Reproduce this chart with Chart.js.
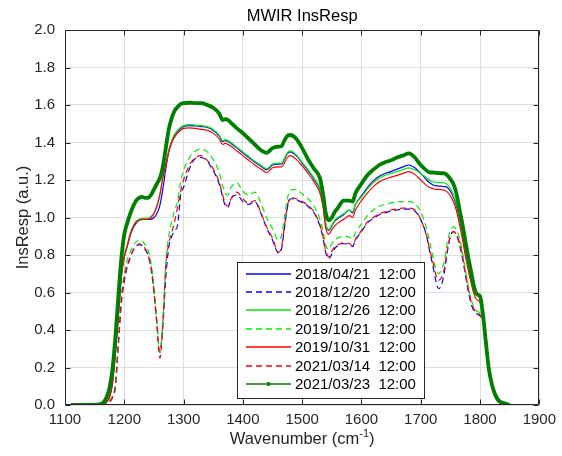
<!DOCTYPE html>
<html>
<head>
<meta charset="utf-8">
<script src="https://cdn.jsdelivr.net/npm/chart.js@4.4.1/dist/chart.umd.min.js"></script>
<style>
  html, body { margin: 0; padding: 0; background: #ffffff; }
  #wrap { width: 562px; height: 456px; }
</style>
</head>
<body>
<div id="wrap"><canvas id="c" width="562" height="456"></canvas></div>
<script>
// ---------------- DATA ----------------
const wavenumbers = [
  1110,1150,1160,1165,1170,1175,1180,1185,1190,1195,
  1200,1205,1210,1215,1220,1225,1230,1235,1240,1245,
  1250,1255,1260,1265,1270,1275,1280,1285,1290,1295,
  1300,1310,1320,1330,1340,1350,1360,1366,1370,1375,
  1380,1390,1400,1410,1420,1430,1440,1450,1460,1465,
  1470,1475,1480,1490,1500,1510,1520,1530,1535,1540,
  1545,1550,1555,1560,1570,1580,1585,1590,1600,1610,
  1620,1630,1640,1650,1660,1670,1680,1690,1700,1710,
  1715,1720,1725,1730,1735,1740,1745,1750,1755,1760,
  1765,1770,1775,1780,1785,1790,1795,1800,1805,1810,
  1815,1820,1825,1830,1835,1840,1850
];

const resp_20180421 = [ // blue solid
  0,0,0,0.005,0.015,0.04,0.11,0.27,0.47,0.68,
  0.79,0.845,0.905,0.945,0.97,0.985,0.99,0.99,0.99,0.99,
  1.0,1.02,1.065,1.15,1.26,1.35,1.405,1.44,1.46,1.475,
  1.485,1.49,1.488,1.485,1.48,1.465,1.435,1.405,1.41,1.405,
  1.395,1.37,1.345,1.32,1.295,1.275,1.255,1.28,1.285,1.285,
  1.31,1.34,1.35,1.33,1.29,1.25,1.205,1.15,1.08,0.96,
  0.93,0.955,0.98,0.995,1.015,1.04,1.025,1.07,1.115,1.16,
  1.195,1.22,1.235,1.245,1.258,1.27,1.28,1.265,1.235,1.2,
  1.185,1.175,1.17,1.168,1.167,1.165,1.16,1.14,1.11,1.065,
  1.0,0.92,0.83,0.75,0.675,0.615,0.585,0.575,0.49,0.35,
  0.2,0.11,0.05,0.02,0.01,0,0
];

const resp_20181220 = [ // blue dashed
  0,0,0,0,0.005,0.015,0.04,0.1,0.32,0.54,
  0.66,0.735,0.785,0.825,0.845,0.855,0.85,0.83,0.8,0.73,
  0.6,0.43,0.28,0.42,0.68,0.84,0.9,0.93,0.96,1.12,
  1.16,1.26,1.315,1.32,1.3,1.25,1.18,1.11,1.065,1.055,
  1.1,1.12,1.085,1.07,1.085,1.025,0.945,0.88,0.81,0.83,
  0.94,1.05,1.1,1.095,1.08,1.06,1.025,0.955,0.895,0.81,
  0.78,0.805,0.835,0.85,0.86,0.855,0.845,0.88,0.925,0.97,
  0.995,1.015,1.025,1.035,1.04,1.045,1.045,1.035,0.99,0.9,
  0.82,0.75,0.67,0.62,0.64,0.71,0.82,0.9,0.925,0.91,
  0.86,0.79,0.7,0.61,0.54,0.5,0.485,0.475,0.445,0.35,
  0.2,0.1,0.045,0.02,0.01,0,0
];

const resp_20181226 = [ // green solid
  0,0,0,0.005,0.015,0.045,0.13,0.29,0.49,0.69,
  0.8,0.85,0.915,0.955,0.98,0.99,0.995,0.995,0.995,1.005,
  1.025,1.065,1.125,1.215,1.29,1.36,1.41,1.445,1.465,1.48,
  1.49,1.495,1.493,1.49,1.485,1.47,1.44,1.41,1.415,1.41,
  1.4,1.375,1.35,1.325,1.3,1.28,1.26,1.285,1.29,1.29,
  1.315,1.345,1.355,1.335,1.295,1.255,1.21,1.155,1.085,0.965,
  0.935,0.96,0.985,1.0,1.02,1.04,1.03,1.07,1.11,1.15,
  1.185,1.21,1.225,1.235,1.245,1.255,1.265,1.255,1.235,1.21,
  1.198,1.19,1.188,1.187,1.186,1.185,1.175,1.155,1.12,1.075,
  1.01,0.93,0.84,0.76,0.685,0.625,0.59,0.58,0.5,0.36,
  0.21,0.115,0.055,0.025,0.01,0,0
];

const resp_20191021 = [ // green dashed
  0,0,0,0,0.005,0.02,0.05,0.12,0.35,0.58,
  0.7,0.775,0.815,0.85,0.87,0.88,0.875,0.855,0.825,0.76,
  0.63,0.45,0.28,0.46,0.76,0.9,0.98,1.04,1.09,1.19,
  1.25,1.32,1.355,1.365,1.35,1.31,1.24,1.17,1.13,1.12,
  1.16,1.185,1.14,1.12,1.135,1.08,1.0,0.94,0.88,0.9,
  1.0,1.1,1.145,1.15,1.125,1.1,1.06,0.99,0.93,0.85,
  0.83,0.86,0.88,0.89,0.9,0.895,0.885,0.92,0.965,1.01,
  1.04,1.06,1.07,1.078,1.082,1.085,1.085,1.075,1.03,0.94,
  0.87,0.8,0.73,0.7,0.72,0.77,0.87,0.93,0.95,0.935,
  0.895,0.82,0.73,0.64,0.565,0.52,0.5,0.49,0.46,0.37,
  0.21,0.1,0.05,0.02,0.01,0,0
];

const resp_20191031 = [ // red solid
  0,0,0,0.005,0.015,0.04,0.12,0.28,0.48,0.69,
  0.79,0.85,0.91,0.95,0.975,0.985,0.99,0.99,0.99,1.0,
  1.02,1.06,1.12,1.21,1.28,1.35,1.4,1.43,1.45,1.465,
  1.475,1.478,1.475,1.47,1.465,1.45,1.42,1.39,1.395,1.39,
  1.38,1.355,1.33,1.305,1.28,1.26,1.24,1.265,1.27,1.27,
  1.29,1.32,1.33,1.31,1.275,1.235,1.19,1.13,1.06,0.94,
  0.91,0.935,0.955,0.97,0.99,1.01,1.0,1.04,1.09,1.13,
  1.165,1.19,1.205,1.215,1.225,1.235,1.245,1.23,1.2,1.17,
  1.16,1.155,1.15,1.15,1.148,1.145,1.135,1.115,1.085,1.04,
  0.97,0.89,0.8,0.72,0.65,0.59,0.56,0.55,0.47,0.34,
  0.2,0.11,0.05,0.02,0.01,0,0
];

const resp_20210314 = [ // red dashed
  0,0,0,0,0.005,0.015,0.04,0.1,0.33,0.56,
  0.68,0.745,0.79,0.825,0.845,0.86,0.855,0.835,0.8,0.74,
  0.61,0.43,0.25,0.43,0.74,0.86,0.92,0.98,1.06,1.14,
  1.2,1.28,1.32,1.33,1.305,1.26,1.19,1.12,1.075,1.06,
  1.1,1.135,1.1,1.075,1.09,1.03,0.95,0.89,0.815,0.84,
  0.95,1.06,1.105,1.1,1.085,1.065,1.03,0.96,0.9,0.82,
  0.79,0.82,0.845,0.855,0.865,0.86,0.85,0.885,0.93,0.975,
  1.0,1.02,1.03,1.04,1.045,1.05,1.05,1.04,0.99,0.9,
  0.83,0.77,0.7,0.665,0.68,0.73,0.83,0.9,0.925,0.91,
  0.87,0.8,0.71,0.62,0.55,0.51,0.49,0.48,0.45,0.36,
  0.2,0.1,0.05,0.02,0.01,0,0
];

const resp_20210323 = [ // dark green thick
  0,0,0.005,0.015,0.04,0.09,0.19,0.36,0.58,0.78,
  0.91,0.97,1.02,1.06,1.09,1.105,1.11,1.105,1.105,1.12,
  1.15,1.18,1.21,1.27,1.37,1.47,1.53,1.57,1.59,1.605,
  1.61,1.612,1.61,1.61,1.6,1.585,1.555,1.52,1.525,1.52,
  1.505,1.475,1.45,1.42,1.39,1.36,1.345,1.37,1.378,1.38,
  1.41,1.435,1.44,1.42,1.37,1.31,1.26,1.21,1.13,1.02,
  0.985,1.0,1.03,1.05,1.09,1.09,1.085,1.13,1.18,1.225,
  1.255,1.28,1.295,1.305,1.32,1.33,1.342,1.32,1.28,1.25,
  1.24,1.24,1.238,1.237,1.236,1.235,1.225,1.205,1.18,1.13,
  1.05,0.97,0.88,0.79,0.71,0.63,0.59,0.58,0.48,0.33,
  0.19,0.11,0.06,0.03,0.015,0.01,0
];

const seriesLabels = [
  '2018/04/21  12:00', '2018/12/20  12:00', '2018/12/26  12:00', '2019/10/21  12:00',
  '2019/10/31  12:00', '2021/03/14  12:00', '2021/03/23  12:00'
];
const xTicks = [1100,1200,1300,1400,1500,1600,1700,1800,1900];
const yTicks = [0,0.2,0.4,0.6,0.8,1.0,1.2,1.4,1.6,1.8,2.0];
const chartTitle = 'MWIR InsResp';
const yLabel = 'InsResp (a.u.)';

// ---------------- STYLE ----------------
const FONT = '"Liberation Sans", Arial, Helvetica, sans-serif';
const AXIS_COLOR = '#262626';
const styles = [
  { color: '#0000ff', dash: [],     width: 1.2 },
  { color: '#0000ff', dash: [6, 4], width: 1.2 },
  { color: '#00ee00', dash: [],     width: 1.2 },
  { color: '#00ee00', dash: [6, 4], width: 1.2 },
  { color: '#ff0000', dash: [],     width: 1.2 },
  { color: '#ff0000', dash: [6, 4], width: 1.2 },
  { color: '#008000', dash: [],     width: 3.8, marker: true }
];
const seriesValues = [resp_20180421, resp_20181220, resp_20181226, resp_20191021,
                      resp_20191031, resp_20210314, resp_20210323];

const datasets = seriesValues.map((vals, i) => ({
  label: seriesLabels[i],
  data: wavenumbers.map((w, k) => ({ x: w, y: vals[k] })),
  borderColor: styles[i].color,
  borderDash: styles[i].dash,
  borderWidth: styles[i].width,
  pointRadius: 0,
  fill: false,
  cubicInterpolationMode: 'monotone',
  order: seriesValues.length - i
}));

const decor = {
  id: 'decor',
  afterDraw(chart) {
    const { ctx, chartArea: a, scales: { x, y } } = chart;
    const L = Math.round(a.left) + 0.5, R = Math.round(a.right) - 0.5;
    const T = Math.round(a.top) + 0.5, B = Math.round(a.bottom) - 0.5;
    ctx.save();
    ctx.strokeStyle = AXIS_COLOR;
    ctx.lineWidth = 1;
    ctx.setLineDash([]);
    ctx.beginPath();
    ctx.rect(L, T, R - L, B - T);
    ctx.stroke();
    // inward ticks
    const tl = 5;
    ctx.beginPath();
    xTicks.forEach(v => {
      const px = Math.round(x.getPixelForValue(v)) + 0.5;
      ctx.moveTo(px, B); ctx.lineTo(px, B - tl);
      ctx.moveTo(px, T); ctx.lineTo(px, T + tl);
    });
    yTicks.forEach(v => {
      const py = Math.round(y.getPixelForValue(v)) + 0.5;
      ctx.moveTo(L, py); ctx.lineTo(L + tl, py);
      ctx.moveTo(R, py); ctx.lineTo(R - tl, py);
    });
    ctx.stroke();

    // title
    ctx.fillStyle = '#000000';
    ctx.font = '16.5px ' + FONT;
    ctx.textAlign = 'center';
    ctx.textBaseline = 'alphabetic';
    ctx.fillText(chartTitle, (a.left + a.right) / 2, 21);

    // x label with superscript
    ctx.fillStyle = AXIS_COLOR;
    const main = '16.5px ' + FONT, sup = '11px ' + FONT;
    ctx.font = main;
    const p1 = 'Wavenumber (cm', p3 = ')';
    const w1 = ctx.measureText(p1).width, w3 = ctx.measureText(p3).width;
    ctx.font = sup;
    const w2 = ctx.measureText('-1').width;
    let x0 = (a.left + a.right) / 2 - (w1 + w2 + w3) / 2;
    const base = 444;
    ctx.textAlign = 'left';
    ctx.font = main; ctx.fillText(p1, x0, base);
    ctx.font = sup; ctx.fillText('-1', x0 + w1, base - 7);
    ctx.font = main; ctx.fillText(p3, x0 + w1 + w2, base);

    // y label
    ctx.save();
    ctx.translate(23, (a.top + a.bottom) / 2);
    ctx.rotate(-Math.PI / 2);
    ctx.textAlign = 'center';
    ctx.textBaseline = 'middle';
    ctx.font = main;
    ctx.fillText(yLabel, 0, 0);
    ctx.restore();

    // legend
    const lx = 237.5, ly = 262.5, lw = 187, lh = 136;
    ctx.fillStyle = '#ffffff';
    ctx.fillRect(lx, ly, lw, lh);
    ctx.strokeStyle = AXIS_COLOR;
    ctx.lineWidth = 1;
    ctx.strokeRect(lx, ly, lw, lh);
    const rowH = 18.4, firstY = 273.5;
    seriesLabels.forEach((label, i) => {
      const st = styles[i];
      const cy = Math.round(firstY + i * rowH);
      ctx.save();
      ctx.strokeStyle = st.color;
      ctx.lineWidth = 1.3;
      ctx.setLineDash(st.dash);
      ctx.beginPath();
      ctx.moveTo(246, cy); ctx.lineTo(291, cy);
      ctx.stroke();
      ctx.setLineDash([]);
      if (st.marker) {
        ctx.fillStyle = st.color;
        ctx.beginPath();
        ctx.arc(268.5, cy, 2, 0, Math.PI * 2);
        ctx.fill();
      }
      ctx.fillStyle = '#000000';
      ctx.font = '15px ' + FONT;
      ctx.textAlign = 'left';
      ctx.textBaseline = 'middle';
      ctx.fillText(label, 295, cy + 1);
      ctx.restore();
    });
    ctx.restore();
  }
};

new Chart(document.getElementById('c'), {
  type: 'line',
  data: { datasets },
  plugins: [decor],
  options: {
    responsive: false,
    devicePixelRatio: 1,
    animation: false,
    layout: { padding: { top: 30, right: 21, left: 0, bottom: 0 } },
    plugins: { legend: { display: false }, title: { display: false }, tooltip: { enabled: false } },
    scales: {
      x: {
        type: 'linear',
        min: 1100, max: 1900,
        afterFit: s => { s.height = 51; },
        afterBuildTicks: s => { s.ticks = xTicks.map(v => ({ value: v })); },
        grid: { color: '#dedede', lineWidth: 1, drawTicks: false },
        border: { display: false },
        ticks: { font: { family: FONT, size: 15 }, color: AXIS_COLOR, padding: 6, maxRotation: 0, autoSkip: false,
                 callback: v => String(v) }
      },
      y: {
        type: 'linear',
        min: 0, max: 2.0,
        afterFit: s => { s.width = 65; },
        afterBuildTicks: s => { s.ticks = yTicks.map(v => ({ value: v })); },
        grid: { color: '#dedede', lineWidth: 1, drawTicks: false },
        border: { display: false },
        ticks: { font: { family: FONT, size: 15 }, color: AXIS_COLOR, padding: 10,
                 callback: v => Number(v).toFixed(1), autoSkip: false }
      }
    }
  }
});
</script>
</body>
</html>
